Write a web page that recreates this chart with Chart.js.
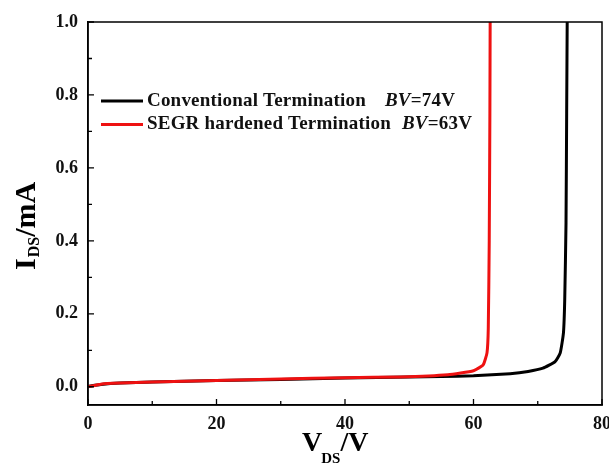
<!DOCTYPE html>
<html>
<head>
<meta charset="utf-8">
<script src="https://cdn.jsdelivr.net/npm/chart.js@4/dist/chart.umd.min.js"></script>
<style>
  html, body { margin: 0; padding: 0; background: #fff; }
  canvas { display: block; }
</style>
</head>
<body>
<canvas id="ivChart" width="609" height="464"></canvas>
<script>
// I-V breakdown curves (V in volts, I in mA)
const convV = [0, 2, 5, 10, 20, 30, 40, 50, 55, 60, 65.7, 68.5, 70.8, 72.7, 73.5, 74, 74.2, 74.4, 74.5, 74.6];
const convI = [0.001, 0.006, 0.01, 0.013, 0.017, 0.02, 0.024, 0.027, 0.028, 0.03, 0.036, 0.042, 0.051, 0.069, 0.093, 0.148, 0.24, 0.45, 0.75, 1.05];
const segrV = [0, 2, 5, 10, 20, 30, 40, 48.6, 56, 60, 61.5, 62.1, 62.3, 62.45, 62.55, 62.6];
const segrI = [0.0, 0.007, 0.01, 0.013, 0.017, 0.021, 0.025, 0.027, 0.033, 0.044, 0.06, 0.093, 0.16, 0.4, 0.75, 1.05];

const xTicks = [0, 20, 40, 60, 80];
const xMinor = [10, 30, 50, 70];
const yTicks = [0.0, 0.2, 0.4, 0.6, 0.8, 1.0];
const yMinor = [0.1, 0.3, 0.5, 0.7, 0.9];

const legendItems = [
  { color: '#000000', name: 'Conventional Termination', bv: '=74V', bvX: 385 },
  { color: '#ee1111', name: 'SEGR hardened Termination', bv: '=63V', bvX: 402 }
];

const SERIF = '"Liberation Serif", "Times New Roman", serif';

const toPoints = (xs, ys) => xs.map((x, i) => ({ x, y: ys[i] }));

// frame, inner ticks, legend and axis titles
const decorations = {
  id: 'decorations',
  afterDraw(chart) {
    const { ctx, chartArea: a, scales: { x, y } } = chart;
    ctx.save();
    ctx.strokeStyle = '#000';
    ctx.lineWidth = 1.5;
    ctx.strokeRect(a.left, a.top, a.right - a.left, a.bottom - a.top);

    ctx.lineWidth = 1.3;
    ctx.beginPath();
    xTicks.forEach(v => { const px = x.getPixelForValue(v); ctx.moveTo(px, a.bottom); ctx.lineTo(px, a.bottom - 6); });
    xMinor.forEach(v => { const px = x.getPixelForValue(v); ctx.moveTo(px, a.bottom); ctx.lineTo(px, a.bottom - 4); });
    yTicks.forEach(v => { const py = y.getPixelForValue(v); ctx.moveTo(a.left, py); ctx.lineTo(a.left + 6, py); });
    yMinor.forEach(v => { const py = y.getPixelForValue(v); ctx.moveTo(a.left, py); ctx.lineTo(a.left + 4, py); });
    ctx.stroke();

    // legend
    ctx.textBaseline = 'middle';
    ctx.fillStyle = '#111';
    ctx.letterSpacing = '0.2px';
    legendItems.forEach((item, i) => {
      const ly = 101 + i * 23.5;
      ctx.strokeStyle = item.color;
      ctx.lineWidth = 3;
      ctx.beginPath();
      ctx.moveTo(101, ly);
      ctx.lineTo(143, ly);
      ctx.stroke();
      ctx.font = 'bold 19px ' + SERIF;
      ctx.textAlign = 'left';
      ctx.fillText(item.name, 147, ly);
      ctx.font = 'italic bold 19px ' + SERIF;
      ctx.fillText('BV', item.bvX, ly);
      const w = ctx.measureText('BV').width;
      ctx.font = 'bold 19px ' + SERIF;
      ctx.fillText(item.bv, item.bvX + w, ly);
    });
    ctx.letterSpacing = '0px';

    // x title: V_DS/V
    ctx.textBaseline = 'alphabetic';
    ctx.fillStyle = '#000';
    let tx = 302;
    ctx.font = 'bold 28px ' + SERIF;
    ctx.fillText('V', tx, 451);
    tx += ctx.measureText('V').width - 1;
    ctx.font = 'bold 15px ' + SERIF;
    ctx.fillText('DS', tx, 463);
    tx += ctx.measureText('DS').width;
    ctx.font = 'bold 28px ' + SERIF;
    ctx.fillText('/V', tx, 451);

    // y title: I_DS/mA (rotated)
    ctx.translate(35, 270);
    ctx.rotate(-Math.PI / 2);
    let ty = 0;
    ctx.font = 'bold 30px ' + SERIF;
    ctx.fillText('I', ty, 0);
    ty += ctx.measureText('I').width + 1;
    ctx.font = 'bold 16px ' + SERIF;
    ctx.fillText('DS', ty, 4);
    ty += ctx.measureText('DS').width;
    ctx.font = 'bold 30px ' + SERIF;
    ctx.fillText('/mA', ty, 0);
    ctx.restore();
  }
};

const fixBox = (size, key) => scale => {
  scale[key] = size;
  scale.paddingLeft = 0;
  scale.paddingRight = 0;
  scale.paddingTop = 0;
  scale.paddingBottom = 0;
};

new Chart(document.getElementById('ivChart'), {
  type: 'scatter',
  data: {
    datasets: [
      {
        label: 'Conventional Termination',
        data: toPoints(convV, convI),
        borderColor: '#000000',
        borderWidth: 3,
        showLine: true,
        pointRadius: 0,
        tension: 0.15,
        order: 2
      },
      {
        label: 'SEGR hardened Termination',
        data: toPoints(segrV, segrI),
        borderColor: '#ee1111',
        borderWidth: 3,
        showLine: true,
        pointRadius: 0,
        tension: 0.15,
        order: 1
      }
    ]
  },
  options: {
    responsive: false,
    animation: false,
    layout: { padding: { top: 22, right: 7, left: 0, bottom: 0 } },
    plugins: {
      legend: { display: false },
      tooltip: { enabled: false }
    },
    scales: {
      x: {
        type: 'linear',
        min: 0,
        max: 80,
        afterBuildTicks: s => { s.ticks = xTicks.map(v => ({ value: v })); },
        afterFit: fixBox(59, 'height'),
        grid: { display: false, drawTicks: false },
        border: { display: true, color: '#000', width: 1.5 },
        ticks: {
          padding: 9,
          color: '#111',
          font: { family: SERIF, size: 18, weight: 'bold' }
        }
      },
      y: {
        type: 'linear',
        min: -0.05,
        max: 1.0,
        afterBuildTicks: s => { s.ticks = yTicks.map(v => ({ value: v })); },
        afterFit: fixBox(88, 'width'),
        grid: { display: false, drawTicks: false },
        border: { display: true, color: '#000', width: 1.5 },
        ticks: {
          padding: 10,
          color: '#111',
          callback: v => v.toFixed(1),
          font: { family: SERIF, size: 18, weight: 'bold' }
        }
      }
    }
  },
  plugins: [decorations]
});
</script>
</body>
</html>
